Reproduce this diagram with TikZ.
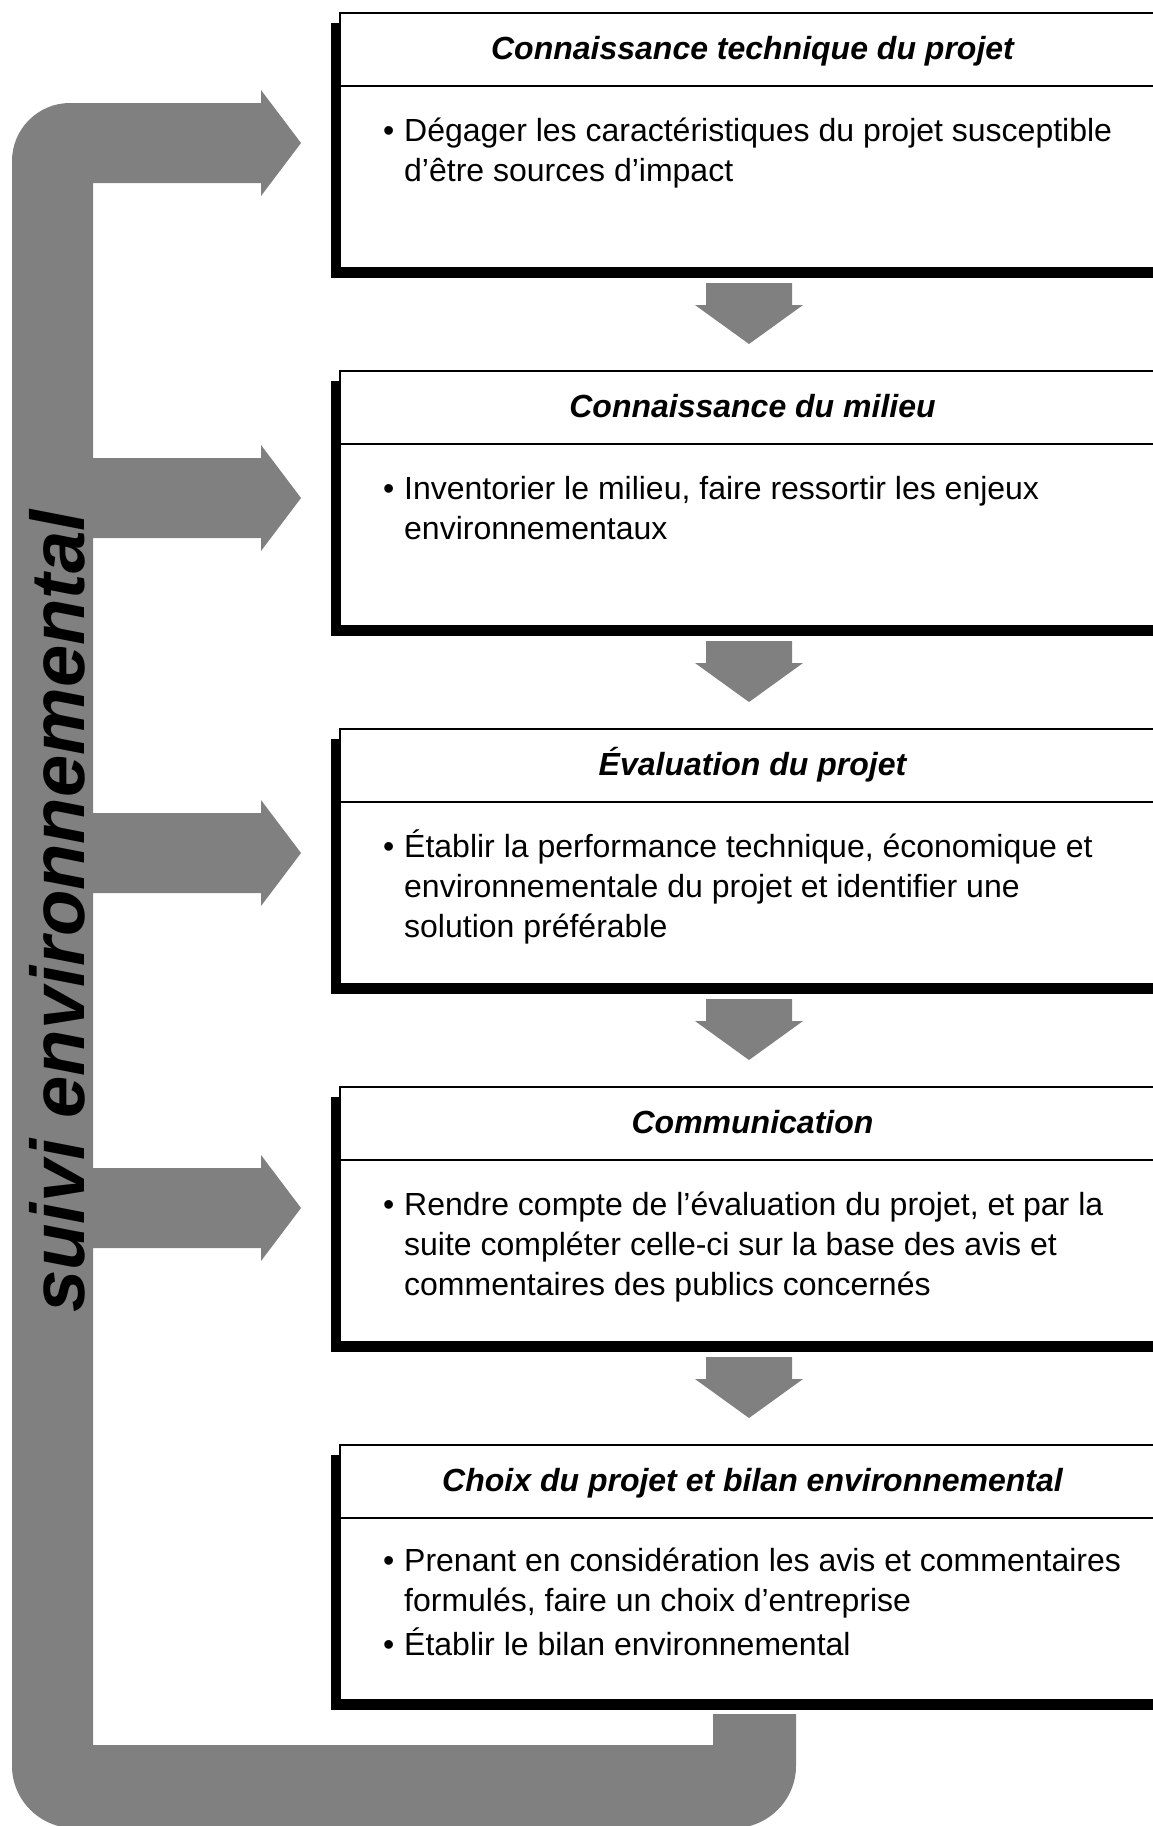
\documentclass[tikz,border=0pt]{standalone}
\usepackage{fontspec}
\setmainfont{Liberation Sans}
\usetikzlibrary{shadows}
\definecolor{screen}{gray}{0.5}

\begin{document}
\begin{tikzpicture}[x=1pt, y=-1pt,
  stage/.style={draw=black, line width=2.5pt, fill=white, minimum width=825pt,
    minimum height=255pt, inner sep=0pt, outer sep=0pt, anchor=north west,
    general shadow={fill=black, shadow xshift=-9pt, shadow yshift=-10pt}},
  heading/.style={font=\fontsize{32}{38}\selectfont\bfseries\itshape, anchor=base, inner sep=0pt},
  bodyline/.style={font=\fontsize{32}{38}\selectfont, anchor=base west, inner sep=0pt},
  titlerule/.style={line width=2pt},
  band/.style={fill=screen},
  flowarrow/.pic={\fill[band] (-43,0) -- (43,0) -- (43,22) -- (54,22) -- (0,61) -- (-54,22) -- (-43,22) -- cycle;},
]
\useasboundingbox (0,0) rectangle (1152,1826);
\fill[white] (0,0) rectangle (1152,1826);

% monitoring band running down the left side, with one arrow into each stage
\fill[band] (301,143) -- (261,90) -- (261,103) -- (70,103)
  .. controls (38,103) and (12,129) .. (12,161) -- (12,1766)
  .. controls (12,1800) and (40,1828) .. (74,1828) -- (734,1828)
  .. controls (768,1828) and (796,1800) .. (796,1766)
  -- (796,1714) -- (713,1714) -- (713,1745) -- (93,1745)
  -- (93,1248) -- (261,1248) -- (261,1261) -- (301,1208) -- (261,1155) -- (261,1168)
  -- (93,1168) -- (93,893) -- (261,893) -- (261,906) -- (301,853) -- (261,800) -- (261,813)
  -- (93,813) -- (93,538) -- (261,538) -- (261,551) -- (301,498) -- (261,445) -- (261,458)
  -- (93,458) -- (93,183) -- (261,183) -- (261,196) -- cycle;

\node[anchor=base west, rotate=90, inner sep=0pt,
  font=\fontsize{76}{80}\selectfont\bfseries\itshape] (suivi) at (84,1313) {suivi environnemental};

% stages
\node[stage] (box1) at (340,13) {};
\node[stage] (box2) at (340,371) {};
\node[stage] (box3) at (340,729) {};
\node[stage] (box4) at (340,1087) {};
\node[stage] (box5) at (340,1445) {};

\foreach \b in {box1,box2,box3,box4,box5}{
  \draw[titlerule] ([yshift=-73pt]\b.north west) -- ([yshift=-73pt]\b.north east);
}

% arrows between stages
\pic at (749,283) {flowarrow};
\pic at (749,641) {flowarrow};
\pic at (749,999) {flowarrow};
\pic at (749,1357) {flowarrow};

% titles
\node[heading] (h1) at ([yshift=-46pt]box1.north) {Connaissance technique du projet};
\node[heading] (h2) at ([yshift=-46pt]box2.north) {Connaissance du milieu};
\node[heading] (h3) at ([yshift=-46pt]box3.north) {Évaluation du projet};
\node[heading] (h4) at ([yshift=-46pt]box4.north) {Communication};
\node[heading] (h5) at ([yshift=-46pt]box5.north) {Choix du projet et bilan environnemental};

% stage 1
\node[bodyline] (p1) at (383,141) {•};
\node[bodyline] (l11) at (404,141) {Dégager les caractéristiques du projet susceptible};
\node[bodyline] (l12) at (404,181) {d’être sources d’impact};
% stage 2
\node[bodyline] (p2) at (383,499) {•};
\node[bodyline] (l21) at (404,499) {Inventorier le milieu, faire ressortir les enjeux};
\node[bodyline] (l22) at (404,539) {environnementaux};
% stage 3
\node[bodyline] (p3) at (383,857) {•};
\node[bodyline] (l31) at (404,857) {Établir la performance technique, économique et};
\node[bodyline] (l32) at (404,897) {environnementale du projet et identifier une};
\node[bodyline] (l33) at (404,937) {solution préférable};
% stage 4
\node[bodyline] (p4) at (383,1215) {•};
\node[bodyline] (l41) at (404,1215) {Rendre compte de l’évaluation du projet, et par la};
\node[bodyline] (l42) at (404,1255) {suite compléter celle-ci sur la base des avis et};
\node[bodyline] (l43) at (404,1295) {commentaires des publics concernés};
% stage 5
\node[bodyline] (p5) at (383,1571) {•};
\node[bodyline] (l51) at (404,1571) {Prenant en considération les avis et commentaires};
\node[bodyline] (l52) at (404,1611) {formulés, faire un choix d’entreprise};
\node[bodyline] (p6) at (383,1655) {•};
\node[bodyline] (l53) at (404,1655) {Établir le bilan environnemental};
\end{tikzpicture}
\end{document}
